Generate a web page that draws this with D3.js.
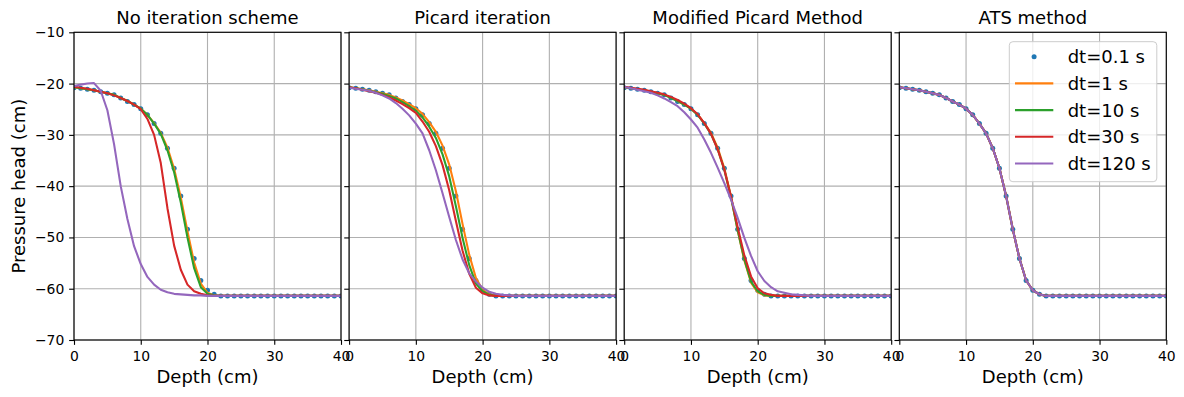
<!DOCTYPE html>
<html>
<head>
<meta charset="utf-8">
<script src="https://cdn.jsdelivr.net/npm/d3@7"></script>
<style>
  body { margin: 0; background: #fff; }
  svg text { font-family: "DejaVu Sans", sans-serif; }
</style>
</head>
<body>
<div id="chart"></div>
<script>
// depth grid (cm)
var depth = [0,1,2,3,4,5,6,7,8,9,10,11,12,13,14,15,16,17,18,19,20,
             21,22,23,24,25,26,27,28,29,30,31,32,33,34,35,36,37,38,39,40];

// reference solution dt=0.1 s (same in all panels)
var refDt01 = [-20.8,-20.9,-21.1,-21.3,-21.6,-21.9,-22.2,-22.8,-23.5,-24.1,-24.9,-26.1,-27.8,-29.7,-32.6,-36.5,-41.9,-48.4,-54.1,-58.4,-60.3,-61.1,-61.4,
  -61.4,-61.4,-61.4,-61.4,-61.4,-61.4,-61.4,-61.4,-61.4,-61.4,-61.4,-61.4,-61.4,-61.4,-61.4,-61.4,-61.4,-61.4];

// No iteration scheme
var noIterDt1 = [-20.7,-20.9,-21.1,-21.3,-21.6,-21.9,-22.2,-22.8,-23.4,-24.1,-24.9,-26.1,-27.7,-29.6,-32.5,-36.6,-42.2,-48.8,-54.9,-59.0,-60.8,-61.3,-61.4,
  -61.4,-61.4,-61.4,-61.4,-61.4,-61.4,-61.4,-61.4,-61.4,-61.4,-61.4,-61.4,-61.4,-61.4,-61.4,-61.4,-61.4,-61.4];
var noIterDt10 = [-20.7,-20.9,-21.1,-21.3,-21.6,-21.9,-22.2,-22.8,-23.4,-24.1,-24.9,-26.1,-27.8,-29.8,-33.0,-37.3,-43.2,-50.0,-56.0,-59.7,-61.0,-61.3,-61.4,
  -61.4,-61.4,-61.4,-61.4,-61.4,-61.4,-61.4,-61.4,-61.4,-61.4,-61.4,-61.4,-61.4,-61.4,-61.4,-61.4,-61.4,-61.4];
var noIterDt30 = [-20.6,-20.8,-21.0,-21.3,-21.6,-21.9,-22.3,-22.8,-23.4,-24.1,-25.0,-26.9,-30.0,-35.5,-44.3,-51.6,-56.3,-59.2,-60.5,-61.0,-61.3,-61.4,-61.4,
  -61.4,-61.4,-61.4,-61.4,-61.4,-61.4,-61.4,-61.4,-61.4,-61.4,-61.4,-61.4,-61.4,-61.4,-61.4,-61.4,-61.4,-61.4];
var noIterDt120 = [-20.5,-20.2,-20.0,-19.9,-21.4,-25.2,-31.8,-40.0,-46.4,-51.7,-55.2,-57.7,-59.2,-60.2,-60.7,-61.0,-61.1,-61.2,-61.3,-61.3,-61.4,-61.4,-61.4,
  -61.4,-61.4,-61.4,-61.4,-61.4,-61.4,-61.4,-61.4,-61.4,-61.4,-61.4,-61.4,-61.4,-61.4,-61.4,-61.4,-61.4,-61.4];

// Picard iteration
var picardDt1 = [-20.7,-20.9,-21.1,-21.3,-21.6,-21.9,-22.2,-22.7,-23.3,-24.0,-24.8,-25.9,-27.5,-29.4,-32.1,-35.8,-41.0,-47.4,-53.4,-57.9,-60.2,-61.1,-61.4,
  -61.4,-61.4,-61.4,-61.4,-61.4,-61.4,-61.4,-61.4,-61.4,-61.4,-61.4,-61.4,-61.4,-61.4,-61.4,-61.4,-61.4,-61.4];
var picardDt10 = [-20.7,-20.9,-21.1,-21.4,-21.7,-22.0,-22.4,-22.9,-23.6,-24.4,-25.3,-26.6,-28.4,-30.6,-33.8,-38.1,-43.9,-50.1,-55.4,-59.0,-60.5,-61.2,-61.4,
  -61.4,-61.4,-61.4,-61.4,-61.4,-61.4,-61.4,-61.4,-61.4,-61.4,-61.4,-61.4,-61.4,-61.4,-61.4,-61.4,-61.4,-61.4];
var picardDt30 = [-20.7,-20.9,-21.2,-21.5,-21.8,-22.2,-22.7,-23.3,-24.0,-24.8,-25.7,-27.4,-29.4,-32.2,-35.9,-40.8,-46.8,-52.6,-57.1,-59.8,-60.9,-61.3,-61.4,
  -61.4,-61.4,-61.4,-61.4,-61.4,-61.4,-61.4,-61.4,-61.4,-61.4,-61.4,-61.4,-61.4,-61.4,-61.4,-61.4,-61.4,-61.4];
var picardDt120 = [-20.8,-21.0,-21.2,-21.4,-21.8,-22.3,-22.9,-23.8,-24.9,-26.2,-27.8,-29.7,-33.0,-36.9,-41.4,-46.0,-50.5,-54.3,-57.0,-58.6,-59.8,-60.6,-61.0,-61.2,-61.3,
  -61.4,-61.4,-61.4,-61.4,-61.4,-61.4,-61.4,-61.4,-61.4,-61.4,-61.4,-61.4,-61.4,-61.4,-61.4,-61.4];

// Modified Picard Method
var modPicDt1 = [-20.7,-20.9,-21.1,-21.3,-21.6,-21.9,-22.2,-22.7,-23.4,-24.1,-24.9,-26.0,-27.7,-29.6,-32.5,-36.5,-42.0,-48.6,-54.5,-58.8,-60.7,-61.3,-61.4,
  -61.4,-61.4,-61.4,-61.4,-61.4,-61.4,-61.4,-61.4,-61.4,-61.4,-61.4,-61.4,-61.4,-61.4,-61.4,-61.4,-61.4,-61.4];
var modPicDt10 = [-20.7,-20.9,-21.1,-21.3,-21.6,-21.9,-22.2,-22.8,-23.4,-24.1,-24.9,-26.1,-27.8,-29.8,-32.8,-36.8,-42.2,-48.6,-54.3,-58.6,-60.5,-61.2,-61.4,
  -61.4,-61.4,-61.4,-61.4,-61.4,-61.4,-61.4,-61.4,-61.4,-61.4,-61.4,-61.4,-61.4,-61.4,-61.4,-61.4,-61.4,-61.4];
var modPicDt30 = [-20.6,-20.8,-21.0,-21.2,-21.5,-21.8,-22.1,-22.6,-23.2,-23.9,-24.8,-26.0,-27.7,-29.8,-32.8,-36.8,-42.0,-48.0,-53.5,-57.6,-59.9,-60.9,-61.2,-61.4,
  -61.4,-61.4,-61.4,-61.4,-61.4,-61.4,-61.4,-61.4,-61.4,-61.4,-61.4,-61.4,-61.4,-61.4,-61.4,-61.4,-61.4];
var modPicDt120 = [-20.65,-20.9,-21.2,-21.5,-21.8,-22.3,-22.9,-23.6,-24.4,-25.6,-27.0,-28.6,-30.9,-33.5,-36.4,-39.4,-42.6,-46.2,-50.1,-53.6,-56.6,-58.5,-59.7,-60.5,-60.8,-61.1,-61.2,-61.3,
  -61.4,-61.4,-61.4,-61.4,-61.4,-61.4,-61.4,-61.4,-61.4,-61.4,-61.4,-61.4,-61.4];

// ATS method (all time steps fall on the same curve)
var atsCurve = [-20.7,-20.9,-21.1,-21.3,-21.6,-21.9,-22.2,-22.8,-23.5,-24.1,-24.9,-26.1,-27.8,-29.7,-32.6,-36.5,-41.9,-48.4,-54.1,-58.4,-60.3,-61.1,-61.4,
  -61.4,-61.4,-61.4,-61.4,-61.4,-61.4,-61.4,-61.4,-61.4,-61.4,-61.4,-61.4,-61.4,-61.4,-61.4,-61.4,-61.4,-61.4];

var titles = ["No iteration scheme", "Picard iteration", "Modified Picard Method", "ATS method"];
var lineLabels = ["dt=1 s", "dt=10 s", "dt=30 s", "dt=120 s"];
var refLabel = "dt=0.1 s";
var xTicks = [0, 10, 20, 30, 40];
var yTicks = [-70, -60, -50, -40, -30, -20, -10];

var colors = ["#ff7f0e", "#2ca02c", "#d62728", "#9467bd"];
var refColor = "#1f77b4";

var panels = [
  [noIterDt1, noIterDt10, noIterDt30, noIterDt120],
  [picardDt1, picardDt10, picardDt30, picardDt120],
  [modPicDt1, modPicDt10, modPicDt30, modPicDt120],
  [atsCurve, atsCurve, atsCurve, atsCurve]
];

// layout
var width = 1184, height = 397;
var panelLeft = [74, 349.1, 624.2, 899.3],
    panelW = 267,
    panelTop = 32.3,
    panelH = 340 - 32.3;
var px = 100 / 72; // points to pixels
var dotR = 2.5;

var svg = d3.select("#chart")
  .append("svg")
    .attr("width", width)
    .attr("height", height);

var x = d3.scaleLinear().domain([0, 40]).range([0, panelW]);
var y = d3.scaleLinear().domain([-70, -10]).range([panelH, 0]);

var line = d3.line()
  .x(function(d, i) { return x(depth[i]); })
  .y(function(d) { return y(d); });

panels.forEach(function(series, p) {
  var g = svg.append("g")
    .attr("transform", "translate(" + panelLeft[p] + "," + panelTop + ")");

  g.append("clipPath").attr("id", "clip" + p)
    .append("rect").attr("width", panelW).attr("height", panelH);

  // grid
  g.selectAll(".xgrid").data(xTicks).enter().append("line")
    .attr("x1", function(d) { return x(d); }).attr("x2", function(d) { return x(d); })
    .attr("y1", 0).attr("y2", panelH)
    .attr("stroke", "#b0b0b0").attr("stroke-width", 0.8 * px);
  g.selectAll(".ygrid").data(yTicks).enter().append("line")
    .attr("y1", function(d) { return y(d); }).attr("y2", function(d) { return y(d); })
    .attr("x1", 0).attr("x2", panelW)
    .attr("stroke", "#b0b0b0").attr("stroke-width", 0.8 * px);

  var plot = g.append("g").attr("clip-path", "url(#clip" + p + ")");

  // reference dots
  plot.selectAll("circle").data(refDt01).enter().append("circle")
    .attr("cx", function(d, i) { return x(depth[i]); })
    .attr("cy", function(d) { return y(d); })
    .attr("r", dotR)
    .attr("fill", refColor);

  series.forEach(function(s, k) {
    plot.append("path")
      .datum(s)
      .attr("fill", "none")
      .attr("stroke", colors[k])
      .attr("stroke-width", 1.5 * px)
      .attr("stroke-linejoin", "round")
      .attr("d", line);
  });

  // axes
  var ax = g.append("g")
    .attr("transform", "translate(0," + panelH + ")")
    .call(d3.axisBottom(x).tickValues(xTicks).tickSize(3.5 * px).tickPadding(6).tickSizeOuter(0));
  var ay = g.append("g")
    .call(d3.axisLeft(y).tickValues(yTicks).tickSize(3.5 * px).tickPadding(3.5 * px).tickSizeOuter(0)
      .tickFormat(p === 0 ? d3.format("d") : function() { return ""; }));
  [ax, ay].forEach(function(a) {
    a.select(".domain").remove();
    a.attr("font-family", null).attr("font-size", 13.9);
    a.selectAll("line").attr("stroke", "#000").attr("stroke-width", 0.8 * px);
    a.selectAll("text").attr("fill", "#000");
  });

  // spines
  g.append("rect")
    .attr("width", panelW).attr("height", panelH)
    .attr("fill", "none").attr("stroke", "#000").attr("stroke-width", 0.8 * px);

  g.append("text")
    .attr("x", panelW / 2).attr("y", 24 - panelTop)
    .attr("text-anchor", "middle").attr("font-size", 18)
    .text(titles[p]);

  g.append("text")
    .attr("x", panelW / 2).attr("y", 383 - panelTop)
    .attr("text-anchor", "middle").attr("font-size", 18)
    .text("Depth (cm)");

  // legend in last panel
  if (p === 3) {
    var leg = g.append("g").attr("transform", "translate(" + (1009.3 - panelLeft[p]) + "," + (41.7 - panelTop) + ")");
    leg.append("rect")
      .attr("width", 147.5).attr("height", 140)
      .attr("rx", 3.6)
      .attr("fill", "#fff").attr("fill-opacity", 0.8)
      .attr("stroke", "#cccccc").attr("stroke-width", 1);
    var rowY = function(i) { return 15 + i * 26.7; };
    leg.append("circle").attr("cx", 24.8).attr("cy", rowY(0)).attr("r", dotR).attr("fill", refColor);
    leg.append("text").attr("x", 58.4).attr("y", rowY(0)).attr("dy", "0.36em")
      .attr("font-size", 18).text(refLabel);
    lineLabels.forEach(function(lab, k) {
      leg.append("line")
        .attr("x1", 5.7).attr("x2", 44)
        .attr("y1", rowY(k + 1)).attr("y2", rowY(k + 1))
        .attr("stroke", colors[k]).attr("stroke-width", 1.5 * px);
      leg.append("text").attr("x", 58.4).attr("y", rowY(k + 1)).attr("dy", "0.36em")
        .attr("font-size", 18).text(lab);
    });
  }
});

svg.append("text")
  .attr("transform", "translate(24.5," + (panelTop + panelH / 2) + ") rotate(-90)")
  .attr("text-anchor", "middle").attr("font-size", 18)
  .text("Pressure head (cm)");
</script>
</body>
</html>
